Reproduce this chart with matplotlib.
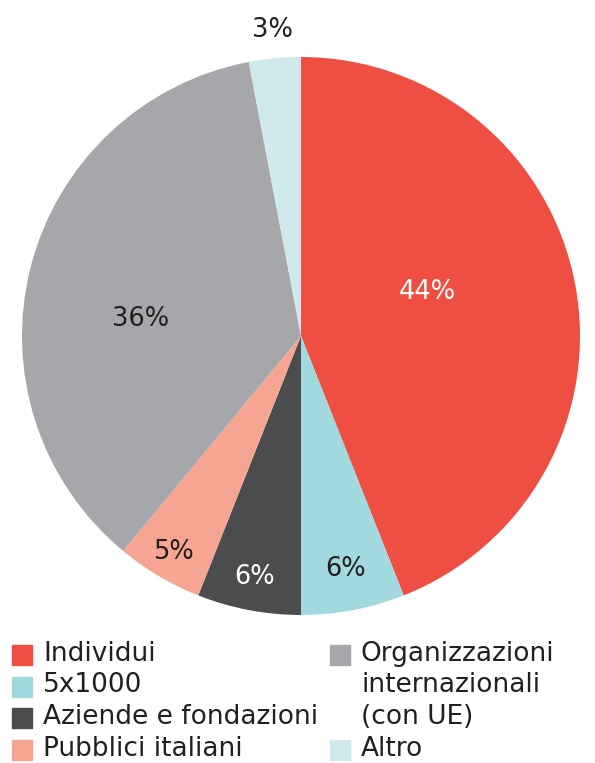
import numpy as np
import matplotlib
matplotlib.use("Agg")
import matplotlib.pyplot as plt
from matplotlib.patches import Rectangle

# fonte dei proventi, quote in percentuale
categorie = ["Individui", "5x1000", "Aziende e fondazioni", "Pubblici italiani",
             "Organizzazioni\ninternazionali\n(con UE)", "Altro"]
quote = [44, 6, 6, 5, 36, 3]
etichette = ["44%", "6%", "6%", "5%", "36%", "3%"]
colori = ["#EF4E42", "#A1D9DE", "#4B4C4E", "#F5A592", "#A6A7AA", "#CFE9EC"]
col_testo = ["white", "#231F20", "white", "#231F20", "#231F20", "#231F20"]

plt.rcParams['font.family'] = ['DejaVu Sans']

W, H = 595, 763
fig = plt.figure(figsize=(W / 100, H / 100), dpi=100)

cx, cy, R = 301, 336, 279
ax = fig.add_axes([(cx - R) / W, (H - cy - R) / H, 2 * R / W, 2 * R / H])
wedges, _ = ax.pie(quote, colors=colori, startangle=90, counterclock=False,
                   radius=1, wedgeprops=dict(linewidth=0))
ax.set_xlim(-1, 1)
ax.set_ylim(-1, 1)
ax.set_aspect("equal")
ax.axis("off")

# distanza dal centro e spostamento angolare per ogni etichetta
dist = [0.48, 0.85, 0.88, 0.90, 0.58, 1.10]
shift = [8.4, 0, 0, 0, 8.4, 0]
for w, txt, c, d, s in zip(wedges, etichette, col_testo, dist, shift):
    a = np.radians((w.theta1 + w.theta2) / 2 + s)
    ax.text(d * np.cos(a), d * np.sin(a), txt, ha="center", va="center",
            fontsize=18.5, color=c, clip_on=False)

# legenda a due colonne, una riga per ogni linea di testo
righe = [(0, 0), (0, 1), (0, 2), (0, 3), (1, 0), (1, 3)]
col_x = [12, 330]
y0, passo, lato = 655, 31.5, 20
for (col, riga), nome, colore in zip(righe, categorie, colori):
    x = col_x[col]
    y = y0 + riga * passo
    fig.patches.append(Rectangle((x / W, (H - y - lato / 2) / H), lato / W, lato / H,
                                 transform=fig.transFigure, color=colore))
    for k, linea in enumerate(nome.split("\n")):
        fig.text((x + 31) / W, (H - y - k * passo + 1) / H, linea, ha="left",
                 va="center", fontsize=19, color="#231F20")

fig.savefig("out.png", dpi=100)
